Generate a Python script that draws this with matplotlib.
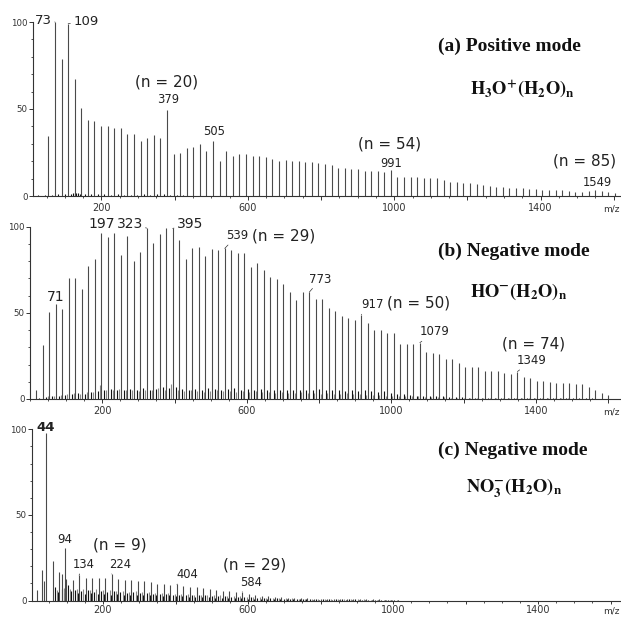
import numpy as np
import matplotlib
matplotlib.use('Agg')
import matplotlib.pyplot as plt
from matplotlib.ticker import MultipleLocator, FixedLocator, FixedFormatter

plt.rcParams['font.family'] = ['DejaVu Sans']
plt.rcParams['mathtext.fontset'] = 'stix'

# (a) positive mode: H3O+(H2O)n, n = 2..88
pos_n = np.arange(2, 89)
pos_mz = 19 + 18 * pos_n
pos_int = [34.4, 100, 79, 99, 67, 50.7, 43.6, 43.2, 40.2, 40.2,
           39.2, 39.2, 35.4, 35.6, 31.7, 33.5, 34.8, 33.5, 49.7, 23.9,
           24.9, 27.7, 28.1, 30.0, 25.8, 31.4, 20.1, 26.0, 22.9, 24.1,
           24.1, 23.1, 23.1, 22.6, 21.4, 20.1, 20.7, 20.1, 20.3, 19.7,
           19.5, 18.7, 18.2, 17.8, 16.3, 16.3, 15.7, 15.7, 14.6, 14.6,
           14.4, 13.6, 14.9, 11.1, 11.1, 10.7, 10.7, 10.2, 10.2, 10.2,
           9.2, 8.2, 8.2, 7.7, 7.3, 6.7, 6.3, 5.9, 5.4, 5.4,
           4.8, 4.8, 4.4, 4.0, 4.0, 3.4, 3.4, 3.4, 3.4, 3.1,
           2.5, 2.5, 2.9, 3.4, 2.9, 2.1, 1.5]
# small side peaks next to the cluster peaks
pos_minor_mz = [28, 46, 64, 82, 100, 118, 122, 127, 131, 136, 141, 154, 172, 190,
                208, 226, 244, 262, 280, 298, 316, 334, 352, 370, 388, 406, 424]
pos_minor_int = [0.6, 0.8, 0.8, 1.0, 1.0, 1.2, 2.0, 1.8, 2.0, 1.5, 1.2, 1.0, 1.0, 0.9,
                 0.9, 0.8, 0.9, 0.8, 0.8, 0.8, 0.9, 0.8, 1.0, 1.2, 0.8, 0.7, 0.6]

# (b) negative mode: HO-(H2O)n, n = 0..88
neg_n = np.arange(0, 89)
neg_mz = 17 + 18 * neg_n
neg_int = [5, 31.5, 50.3, 55.1, 52.4, 70.2, 70.2, 64, 77, 81,
           96.1, 93.8, 96.1, 83.8, 94.6, 79.9, 85.5, 99.2, 90.5, 95.7,
           99, 99, 92.5, 81.4, 87.8, 88.4, 82.8, 86.8, 86.5, 87.4,
           86.5, 85, 84.5, 76.4, 78.9, 75, 70.6, 69.8, 67, 62,
           57.6, 62, 62, 58, 57.8, 53, 51, 48.4, 47.2, 45.8,
           49, 44, 40, 40, 38.5, 38.5, 32, 31.7, 31.7, 32.7,
           27, 26.5, 26, 23.2, 23.2, 20.7, 18.8, 18.8, 18.8, 16.2,
           16.2, 16.2, 15.3, 14.5, 15.9, 13, 12, 10.4, 10.4, 10,
           9.5, 9, 9, 8.7, 8.7, 7, 5.2, 3.3, 2.5]
neg_dark_int = [0.5, 1.0, 1.5, 2.0, 2.5, 3.0, 3.5, 3.0, 4.0, 4.5,
                5.0, 6.0, 5.5, 5.0, 6.0, 5.5, 6.5, 5.5, 6.0, 7.0,
                6.5, 7.0, 6.0, 5.5, 6.0, 5.5, 6.5, 6.0, 5.5, 6.0,
                6.5, 5.5, 6.0, 5.5, 6.0, 5.5, 5.0, 5.5, 5.0, 5.5,
                5.0, 5.5, 5.0, 6.0, 5.0, 5.5, 5.0, 4.5, 5.0, 4.5,
                5.0, 4.5, 4.0, 4.5, 3.5, 3.0, 3.0, 2.5, 2.0, 2.0,
                1.5, 1.5, 1.5, 1.0, 1.0, 1.0, 0.8, 0.8, 0.8, 0.7,
                0.7, 0.6, 0.6, 0.5, 0.5, 0.5, 0.5, 0.4, 0.4, 0.4,
                0.4, 0.3, 0.3, 0.3, 0.3, 0.3, 0.2, 0.2, 0.2]
neg_grey_int = [0, 0, 1.5, 2.0, 2.5, 3.0, 3.5, 3.0, 4.0, 4.0,
                8.0, 5.0, 5.5, 6.0, 5.0, 5.5, 4.5, 5.0, 5.5, 6.5,
                5.0, 8.5, 5.0, 4.5, 5.0, 4.5, 4.0, 4.5, 5.0, 4.5,
                4.5, 4.0, 4.5, 4.0, 4.5, 4.0, 4.0, 3.5, 4.0, 3.5,
                3.5, 4.0, 3.5, 3.5, 3.0, 3.5, 3.0, 3.0, 3.5, 3.0,
                3.0, 2.5, 2.5, 2.5, 2.0, 2.0, 2.0, 1.5, 1.5, 1.5,
                1.2, 1.2, 1.0, 1.0, 0.8, 0.8, 0.8, 0.7, 0.7, 0.6,
                0.6, 0.5, 0.5, 0.5, 0.4, 0.4, 0.4, 0.4, 0.3, 0.3,
                0.3, 0.3, 0.3, 0.2, 0.2, 0.2, 0.2, 0.2, 0.2]

# (c) negative mode: NO3-(H2O)n, n = 0..52
no3_n = np.arange(0, 53)
no3_mz = 62 + 18 * no3_n
no3_int = [23, 16.9, 12.5, 12, 14.8, 13.3, 13.3, 13.3, 13.3, 15.5,
           12.6, 12, 11.9, 11.5, 11.5, 11, 9.6, 9.6, 9.1, 9.4,
           8.4, 7.9, 7.7, 7.2, 6.7, 6.1, 5.7, 5.4, 4.8, 5.2,
           3.6, 3.1, 2.7, 2.4, 2.1, 1.8, 1.6, 1.4, 1.3, 1.2,
           1.1, 1.1, 1.0, 1.0, 0.9, 0.9, 0.8, 0.8, 0.7, 0.7,
           0.6, 0.5, 0.5]
no3_dark_int = [8.0, 6.5, 9.0, 6.0, 5.5, 6.0, 5.0, 5.5, 5.0, 5.5,
                5.0, 4.5, 5.0, 4.5, 4.5, 4.0, 4.0, 4.0, 3.5, 3.5,
                3.5, 3.0, 3.0, 3.0, 2.5, 2.5, 2.5, 2.0, 2.0, 2.0,
                1.8, 1.6, 1.5, 1.4, 1.2, 1.1, 1.0, 1.0, 0.9, 0.9,
                0.8, 0.8, 0.7, 0.7, 0.7, 0.6, 0.6, 0.5, 0.5, 0.5,
                0.4, 0.4, 0.3]
no3_dark2_int = [5.0, 4.5, 5.5, 4.5, 4.0, 4.5, 4.0, 4.0, 3.5, 4.0,
                 3.5, 3.5, 3.0, 3.5, 3.0, 3.0, 2.5, 3.0, 2.5, 2.5,
                 2.2, 2.0, 2.0, 1.8, 1.7, 1.5, 1.4, 1.3, 1.2, 1.1,
                 1.0, 0.9, 0.9, 0.8, 0.8, 0.7, 0.7, 0.6, 0.6, 0.5,
                 0.5, 0.5, 0.4, 0.4, 0.4, 0.3, 0.3, 0.3, 0.3, 0.2,
                 0.2, 0.2, 0.2]
no3_grey_int = [6.0, 7.5, 6.5, 7.0, 6.5, 6.0, 6.5, 6.0, 6.0, 5.5,
                5.5, 5.0, 5.5, 5.0, 5.0, 4.5, 4.5, 4.5, 4.0, 4.0,
                4.0, 3.5, 3.5, 3.5, 3.0, 3.0, 2.8, 2.5, 2.5, 2.2,
                2.0, 1.8, 1.7, 1.5, 1.4, 1.3, 1.2, 1.1, 1.0, 1.0,
                0.9, 0.9, 0.8, 0.8, 0.7, 0.7, 0.6, 0.6, 0.5, 0.5,
                0.5, 0.4, 0.4]
no3_extra_mz = [17, 32, 36, 44, 86, 94]
no3_extra_int = [6.3, 17.8, 11.5, 97.7, 15.5, 30.7]

PX = 0.72  # points per pixel at dpi 100
MAIN = '#4a4a4a'
TXT = '#222222'


def setup(ax, xlim, tick_len=3, pad=2):
    ax.set_xlim(*xlim)
    ax.set_ylim(0, 100)
    for s in ['top', 'right']:
        ax.spines[s].set_visible(False)
    for s in ['left', 'bottom']:
        ax.spines[s].set_color('#333333')
        ax.spines[s].set_linewidth(0.8)
    ax.xaxis.set_major_locator(FixedLocator([200, 400, 600, 800, 1000, 1200, 1400, 1600]))
    ax.xaxis.set_major_formatter(FixedFormatter(['200', '', '600', '', '1000', '', '1400', '']))
    ax.xaxis.set_minor_locator(MultipleLocator(50))
    ax.yaxis.set_major_locator(FixedLocator([0, 50, 100]))
    ax.yaxis.set_minor_locator(MultipleLocator(10))
    ax.tick_params(axis='x', which='major', length=tick_len, width=0.7, color='#333333',
                   labelsize=7, labelcolor='#333333', pad=pad)
    ax.tick_params(axis='x', which='minor', length=1.5, width=0.6, color='#333333')
    ax.tick_params(axis='y', which='major', length=3, width=0.7, color='#333333',
                   labelsize=6.2, labelcolor='#333333', pad=1)
    ax.tick_params(axis='y', which='minor', length=1.5, width=0.6, color='#333333')
    ax.annotate('m/z', xy=(1.0, 0), xycoords='axes fraction',
                xytext=(0, -(tick_len + pad) - 1), textcoords='offset points',
                ha='right', va='top', fontsize=6.5, color='#333333')


def label(ax, x, y, s, dx, dy, size=8.3, ha='center', line=False, weight='normal'):
    kw = {}
    if line:
        kw['arrowprops'] = dict(arrowstyle='-', lw=0.5, color='#333333',
                                shrinkA=0, shrinkB=0)
    ax.annotate(s, xy=(x, y), xytext=(dx * PX, dy * PX), textcoords='offset points',
                ha=ha, va='center', fontsize=size, color=TXT, weight=weight, **kw)


fig = plt.figure(figsize=(6.21, 6.17), dpi=100)

# ---- (a) ----
ax1 = fig.add_axes([33 / 621, 1 - 196 / 617, 587 / 621, 174 / 617])
setup(ax1, (13, 1617))
ax1.vlines(pos_minor_mz, 0, pos_minor_int, color='#111111', lw=0.8)
ax1.vlines(pos_mz, 0, pos_int, color=MAIN, lw=0.8)
h1 = dict(zip(pos_mz, pos_int))
label(ax1, 73, h1[73], '73', -3, 1, size=9.5, ha='right', line=True)
label(ax1, 109, h1[109], '109', 5, 2, size=9.5, ha='left', line=True)
label(ax1, 379, h1[379], '379', 1, 10.5)
label(ax1, 505, h1[505], '505', 0.7, 9.4)
label(ax1, 991, h1[991], '991', 0, 6.5)
label(ax1, 1549, h1[1549], '1549', 2.5, 8)
label(ax1, 379, h1[379], '(n = 20)', 0, 27.5, size=11)
label(ax1, 991, h1[991], '(n = 54)', -1.3, 26, size=11)
label(ax1, 1549, h1[1549], '(n = 85)', -11, 29, size=11)

# ---- (b) ----
ax2 = fig.add_axes([30 / 621, 1 - 399 / 617, 590 / 621, 172.3 / 617])
setup(ax2, (0, 1633))
ax2.vlines(neg_mz - 4, 0, neg_grey_int, color='#8a8a8a', lw=0.8)
ax2.vlines(neg_mz + 9, 0, neg_dark_int, color='#111111', lw=0.8)
ax2.vlines(neg_mz, 0, neg_int, color=MAIN, lw=0.8)
h2 = dict(zip(neg_mz, neg_int))
label(ax2, 71, h2[71], '71', 0, 7.3, size=10)
label(ax2, 197, h2[197], '197', 0.5, 9.4, size=10)
label(ax2, 323, h2[323], '323', -4, 4, size=10, ha='right', line=True)
label(ax2, 395, h2[395], '395', 4, 4.4, size=10, ha='left', line=True)
label(ax2, 539, h2[539], '539', 1, 12.7, size=8.5, ha='left', line=True)
label(ax2, 539, h2[539], '(n = 29)', 27, 12.7, size=11, ha='left')
label(ax2, 773, h2[773], '773', 0, 13, size=8.5, ha='left', line=True)
label(ax2, 917, h2[917], '917', 0.3, 9.6, size=8.5, ha='left', line=True)
label(ax2, 917, h2[917], '(n = 50)', 25.3, 12, size=11, ha='left')
label(ax2, 1079, h2[1079], '1079', 0, 10.7, size=8.5, ha='left', line=True)
label(ax2, 1349, h2[1349], '1349', -0.7, 11, size=8.5, ha='left', line=True)
label(ax2, 1349, h2[1349], '(n = 74)', 16.3, 27.6, size=11)

# ---- (c) ----
ax3 = fig.add_axes([32.3 / 621, 1 - 600.5 / 617, 587.7 / 621, 171.2 / 617])
setup(ax3, (5, 1626), tick_len=2.5, pad=0.8)
ax3.vlines(no3_mz + 12, 0, no3_grey_int, color='#8a8a8a', lw=0.8)
ax3.vlines(no3_mz + 6, 0, no3_dark_int, color='#111111', lw=0.8)
ax3.vlines(no3_mz + 15, 0, no3_dark2_int, color='#111111', lw=0.8)
ax3.vlines(no3_mz, 0, no3_int, color=MAIN, lw=0.8)
ax3.vlines(no3_extra_mz, 0, no3_extra_int, color=MAIN, lw=0.8)
h3 = dict(zip(list(no3_mz) + no3_extra_mz, no3_int + no3_extra_int))
label(ax3, 44, h3[44], '44', -0.7, 5.6, size=9.5, weight='bold')
label(ax3, 94, h3[94], '94', -0.3, 8, size=8.5)
label(ax3, 134, h3[134], '134', 5, 10.5, size=8.3, line=True)
label(ax3, 224, h3[224], '224', 8, 9.3, size=8.3, line=True)
label(ax3, 404, h3[404], '404', 10, 9.6, size=8.3, line=True)
label(ax3, 584, h3[584], '584', 9, 9.3, size=8.3, line=True)
label(ax3, 224, h3[224], '(n = 9)', 8.5, 28.6, size=11)
label(ax3, 584, h3[584], '(n = 29)', 12.7, 26.6, size=11)

# panel titles
ser = dict(family='Liberation Serif', weight='bold', fontsize=14, color='#111111',
           ha='left', va='center')
fig.text(438 / 621, 1 - 46 / 617, '(a) Positive mode', **ser)
fig.text(438 / 621, 1 - 251.7 / 617, '(b) Negative mode', **ser)
fig.text(438 / 621, 1 - 450.7 / 617, '(c) Negative mode', **ser)
fig.text(470 / 621, 1 - 89 / 617, r'$\mathbf{H_3O^{+}(H_2O)_n}$', fontsize=13.2,
         color='#111111', ha='left', va='center')
fig.text(470 / 621, 1 - 291.7 / 617, r'$\mathbf{HO^{-}(H_2O)_n}$', fontsize=13.2,
         color='#111111', ha='left', va='center')
fig.text(466 / 621, 1 - 488 / 617, r'$\mathbf{NO_3^{-}(H_2O)_n}$', fontsize=13.2,
         color='#111111', ha='left', va='center')

fig.savefig('out.png', dpi=100)
